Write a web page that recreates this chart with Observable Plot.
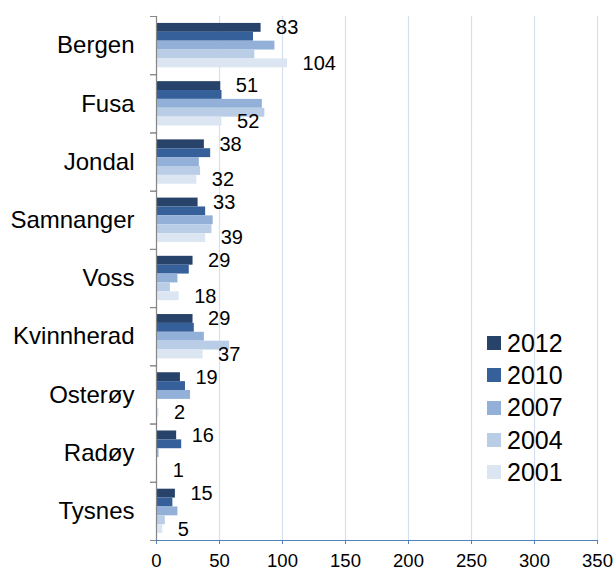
<!DOCTYPE html>
<html>
<head>
<meta charset="utf-8">
<script src="https://cdn.jsdelivr.net/npm/d3@7"></script>
<script src="https://cdn.jsdelivr.net/npm/@observablehq/plot@0.6"></script>
<style>
  html, body { margin: 0; padding: 0; background: #fff; }
  #wrap { position: relative; width: 616px; height: 570px; font-family: "Liberation Sans", Arial, sans-serif; }
  #legend { position: absolute; left: 487px; top: 327px; }
  .row { display: flex; align-items: center; height: 32.3px; font-size: 25px; color: #000; }
  .sw { width: 14px; height: 14px; margin-right: 6px; }
</style>
</head>
<body>
<div id="wrap"></div>
<script>
const categories = ["Bergen","Fusa","Jondal","Samnanger","Voss","Kvinnherad","Osterøy","Radøy","Tysnes"];
const years = ["2012","2010","2007","2004","2001"];
const v2012 = [83, 51, 38, 33, 29, 29, 19, 16, 15];
const v2010 = [77, 52, 43, 39, 26, 30, 23, 20, 13];
const v2007 = [94, 84, 34, 45, 17, 38, 27, 2, 17];
const v2004 = [78, 86, 35, 44, 11, 58, 0, 0, 7];
const v2001 = [104, 52, 32, 39, 18, 37, 2, 1, 5];
const labelledYears = ["2012", "2001"];
const xTicks = [0, 50, 100, 150, 200, 250, 300, 350];
const colors = ["#28436a", "#35609a", "#93b1d8", "#b9cde6", "#dce6f2"];

const series = [v2012, v2010, v2007, v2004, v2001];
const data = categories.flatMap((c, i) => years.map((yr, j) => ({category: c, year: yr, value: series[j][i]})));

const W = 616, H = 570, mT = 16, mB = 30, mL = 156, mR = 19;
const step = (H - mT - mB) / categories.length;

const chart = Plot.plot({
  width: W, height: H,
  marginLeft: mL, marginRight: mR, marginTop: mT, marginBottom: mB,
  style: {fontFamily: "'Liberation Sans', Arial, sans-serif", fontSize: "19px", color: "#000", background: "#fff", overflow: "visible"},
  x: {domain: [0, 350]},
  y: {domain: years, paddingInner: 0, paddingOuter: 0.78, round: false, axis: null},
  fy: {domain: categories, padding: 0, round: false},
  color: {domain: years, range: colors},
  marks: [
    Plot.gridX(xTicks, {stroke: "#d5e0ef", strokeOpacity: 1, strokeWidth: 1.2}),
    Plot.barX(data, {x: "value", y: "year", fy: "category", fill: "year"}),
    Plot.frame({anchor: "left", stroke: "#868686", strokeWidth: 1.2}),
    Plot.frame({anchor: "bottom", facetAnchor: "bottom", stroke: "#4f81bd", strokeWidth: 1.2}),
    Plot.axisX(xTicks, {anchor: "bottom", tickSize: 4, text: null, stroke: "#4f81bd", label: null}),
    Plot.axisX(xTicks, {anchor: "bottom", tickSize: 0, tickPadding: 13, fill: "#000", fontSize: 18.5, label: null}),
    Plot.axisFy({anchor: "left", tickSize: 0, tickPadding: 22, fontSize: 24, fill: "#000", label: null}),
    Plot.axisFy({anchor: "left", tickSize: 6, text: null, stroke: "#868686", dy: -step / 2, label: null}),
    Plot.axisFy([categories[categories.length - 1]], {anchor: "left", tickSize: 6, text: null, stroke: "#868686", dy: step / 2, label: null}),
    Plot.text(data.filter(d => labelledYears.includes(d.year)), {
      x: "value", y: "year", fy: "category", text: d => String(d.value),
      dx: 15, textAnchor: "start", fontSize: 20, fill: "#000"
    })
  ]
});

const wrap = document.getElementById("wrap");
wrap.appendChild(chart);

const legend = document.createElement("div");
legend.id = "legend";
years.forEach((yr, i) => {
  const row = document.createElement("div");
  row.className = "row";
  const sw = document.createElement("div");
  sw.className = "sw";
  sw.style.background = colors[i];
  const t = document.createElement("span");
  t.textContent = yr;
  row.appendChild(sw);
  row.appendChild(t);
  legend.appendChild(row);
});
wrap.appendChild(legend);
</script>
</body>
</html>
